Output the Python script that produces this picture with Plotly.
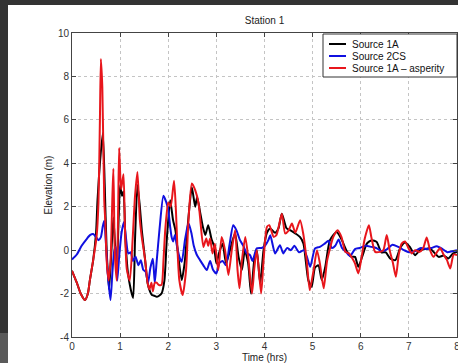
import plotly.graph_objects as go

# ---------------- data ----------------
t_1a = [0.00, 0.10, 0.18, 0.27, 0.33, 0.37, 0.44, 0.50, 0.53, 0.58, 0.64, 0.68, 0.72, 0.77, 0.82, 0.86,
        0.90, 0.93, 0.97, 1.00, 1.04, 1.07, 1.11, 1.16, 1.22, 1.27, 1.31, 1.36, 1.41, 1.45, 1.52, 1.57,
        1.62, 1.66, 1.71, 1.76, 1.81, 1.86, 1.92, 1.97, 2.04, 2.10, 2.15, 2.21, 2.28, 2.34, 2.42, 2.49,
        2.56, 2.60, 2.65, 2.72, 2.77, 2.83, 2.90, 2.95, 3.00, 3.06, 3.13, 3.20, 3.26, 3.33, 3.39, 3.46,
        3.53, 3.59, 3.66, 3.72, 3.79, 3.84, 3.91, 3.98, 4.05, 4.12, 4.22, 4.29, 4.36, 4.46, 4.55, 4.64,
        4.74, 4.81, 4.91, 4.98, 5.05, 5.12, 5.19, 5.26, 5.36, 5.50, 5.60, 5.70, 5.80, 5.88, 5.95, 6.03,
        6.13, 6.23, 6.33, 6.43, 6.52, 6.61, 6.72, 6.82, 6.92, 7.02, 7.13, 7.23, 7.33, 7.44, 7.52, 7.62,
        7.72, 7.82, 7.92, 8.00]
v_1a = [-0.95, -1.5, -2.0, -2.3, -2.0, -1.4, -0.46, 0.8, 2.3, 4.0, 5.4, 3.0, 0.0, -1.8, 0.0, 1.5,
        0.0, -1.0, 1.5, 3.0, 2.5, 2.7, 0.5, -1.0, -1.8, -2.2, 0.5, 3.0, 2.0, 0.92, -0.46, -1.5,
        -1.9, -2.07, -2.1, -2.15, -2.1, -2.0, -1.4, 0.5, 2.3, 1.38, 0.9, -0.31, -1.38, -0.6, 1.5, 2.9,
        2.0, 2.45, 1.9, 1.07, 0.7, 1.15, 0.5, 0.2, -0.61, -0.1, 0.3, -0.6, -0.2, 0.4, 0.77, -0.3,
        -0.92, 0.0, -0.6, -2.0, -0.4, 0.0, -1.53, 0.0, 0.8, 1.0, 0.8, 1.0, 1.68, 1.0, 0.9, 0.77,
        0.6, 0.3, -1.38, -1.69, -0.8, -0.7, -1.38, -0.8, 0.46, 0.84, 0.5, 0.0, -0.3, -0.31, -0.77, -0.3,
        0.31, 0.46, 0.38, -0.1, -0.1, -0.38, -0.46, 0.1, 0.35, 0.15, -0.23, 0.0, 0.05, 0.08, -0.1, -0.31,
        -0.25, -0.38, -0.15, -0.08]

t_2cs = [0.00, 0.10, 0.20, 0.30, 0.38, 0.44, 0.50, 0.55, 0.60, 0.64, 0.67, 0.70, 0.74, 0.80, 0.84, 0.88,
         0.91, 0.94, 0.98, 1.03, 1.08, 1.12, 1.17, 1.22, 1.27, 1.32, 1.38, 1.43, 1.48, 1.53, 1.58, 1.63,
         1.68, 1.72, 1.76, 1.82, 1.90, 1.96, 2.00, 2.04, 2.07, 2.10, 2.14, 2.18, 2.23, 2.28, 2.35, 2.42,
         2.48, 2.53, 2.59, 2.66, 2.73, 2.80, 2.87, 2.93, 3.00, 3.06, 3.13, 3.20, 3.27, 3.35, 3.42, 3.49,
         3.56, 3.63, 3.70, 3.75, 3.84, 3.94, 4.01, 4.08, 4.12, 4.22, 4.32, 4.39, 4.47, 4.55, 4.62, 4.72,
         4.82, 4.88, 4.95, 5.05, 5.15, 5.25, 5.33, 5.40, 5.47, 5.54, 5.61, 5.70, 5.78, 5.88, 5.98, 6.10,
         6.22, 6.32, 6.44, 6.55, 6.66, 6.78, 6.90, 7.00, 7.12, 7.25, 7.37, 7.47, 7.58, 7.70, 7.80, 7.90,
         8.00]
v_2cs = [-0.43, -0.2, 0.2, 0.5, 0.7, 0.74, 0.6, 0.46, 0.6, 1.1, 1.35, 0.5, -1.0, -2.3, -1.0, 0.0,
         0.15, -1.4, -0.3, 0.8, 1.3, 0.6, -0.15, -0.1, -0.5, -0.3, -0.7, -0.46, -0.9, -1.0, -1.5, -0.8,
         -0.4, -1.5, -0.5, 1.0, 2.5, 2.2, 1.85, 1.07, 0.6, 0.4, 0.7, 0.2, -0.3, -0.54, 0.5, 1.25,
         0.8, 0.2, -0.2, -0.46, -0.7, -0.92, -0.5, -0.9, -1.07, -0.6, -0.5, -0.7, 0.2, 1.15, 0.9, 0.46,
         0.2, -0.15, -0.23, -0.5, 0.08, 0.1, 0.2, 0.46, 0.69, -0.15, 0.23, -0.15, 0.1, 0.0, 0.2, -0.1,
         0.0, -0.3, -0.77, 0.08, 0.15, 0.3, 0.43, 0.1, 0.2, 0.49, 0.1, -0.1, -0.28, 0.05, 0.1, 0.2,
         0.15, 0.1, -0.05, 0.05, 0.25, 0.15, 0.0, -0.1, -0.05, 0.1, 0.05, 0.1, 0.18, 0.05, -0.1, -0.05,
         0.0]

t_asp = [0.00, 0.10, 0.18, 0.27, 0.33, 0.37, 0.44, 0.51, 0.55, 0.58, 0.60, 0.63, 0.67, 0.69, 0.72, 0.76,
         0.80, 0.84, 0.86, 0.89, 0.93, 0.96, 0.98, 1.02, 1.07, 1.10, 1.14, 1.20, 1.26, 1.31, 1.36, 1.41,
         1.45, 1.52, 1.57, 1.61, 1.65, 1.68, 1.72, 1.76, 1.80, 1.86, 1.90, 1.94, 2.00, 2.05, 2.12, 2.16,
         2.19, 2.23, 2.30, 2.37, 2.42, 2.49, 2.56, 2.63, 2.66, 2.73, 2.79, 2.83, 2.87, 2.92, 2.97, 3.04,
         3.11, 3.18, 3.25, 3.32, 3.39, 3.44, 3.48, 3.53, 3.60, 3.66, 3.74, 3.79, 3.84, 3.93, 3.98, 4.05,
         4.10, 4.19, 4.25, 4.36, 4.43, 4.50, 4.57, 4.64, 4.74, 4.81, 4.88, 4.94, 5.02, 5.09, 5.15, 5.23,
         5.30, 5.43, 5.52, 5.60, 5.68, 5.76, 5.83, 5.88, 5.95, 6.02, 6.08, 6.17, 6.22, 6.30, 6.40, 6.47,
         6.54, 6.60, 6.67, 6.73, 6.79, 6.85, 6.92, 6.99, 7.06, 7.13, 7.22, 7.30, 7.37, 7.44, 7.51, 7.58,
         7.65, 7.72, 7.79, 7.86, 7.93, 8.00]
v_asp = [-0.95, -1.5, -2.0, -2.3, -2.0, -1.4, -0.46, 0.6, 2.2, 6.0, 8.8, 7.5, 2.3, 1.4, -0.46, -1.4,
         -0.5, 2.5, 3.75, -0.15, -1.4, 2.0, 4.7, 2.8, 3.5, 1.0, -0.9, -1.4, 0.5, 2.5, 3.6, 1.4,
         0.6, -0.46, -1.5, -1.8, -1.5, -1.9, -1.5, -1.5, -1.6, -1.6, -0.5, 1.0, 2.2, 2.0, 3.2, 1.8,
         0.15, -1.38, -2.07, -0.92, 1.38, 3.07, 2.76, 2.15, 1.53, 0.15, 0.54, 0.2, 0.54, -0.15, 0.3, -0.92,
         0.61, 0.0, -1.15, 0.0, 0.92, -0.92, -1.76, -0.5, 0.61, -0.3, -2.0, -0.8, 0.0, -2.0, -0.5, 1.07,
         1.15, 0.61, 0.7, 1.68, 0.77, 0.9, 1.23, 0.8, 1.38, 0.69, -0.55, -1.84, -0.92, 0.0, -0.6, -1.76,
         -0.5, 0.61, 0.92, 0.6, -0.08, -0.15, -0.4, -0.61, -1.07, -0.3, 0.5, 1.15, 0.6, -0.08, -0.08, 0.0,
         0.7, 0.0, -0.6, -1.23, -0.2, 0.3, 0.4, 0.1, -0.15, 0.0, -0.08, 0.1, 0.58, 0.0, -0.31, -0.1,
         0.1, -0.2, -0.45, -0.84, -0.2, -0.23]

series_names = ["Source 1A", "Source 2CS", "Source 1A \u2013 asperity"]
series_colors = ["#000000", "#1010e0", "#e8161c"]
x_ticks = [0, 1, 2, 3, 4, 5, 6, 7, 8]
y_ticks = [-4, -2, 0, 2, 4, 6, 8, 10]

# ---------------- figure ----------------
W, H = 458, 363
L, R, T, B = 72, 1, 33, 26
PW, PH = W - L - R, H - T - B

def px2paper(px, py):
    return (px - L) / PW, (H - B - py) / PH

fig = go.Figure()
for tt, vv, nm, col in zip([t_1a, t_2cs, t_asp], [v_1a, v_2cs, v_asp], series_names, series_colors):
    fig.add_trace(go.Scatter(x=tt, y=vv, mode="lines", name=nm,
                             line=dict(color=col, width=2, shape="spline", smoothing=0.6),
                             showlegend=False))

font_family = "Liberation Sans, Arial, sans-serif"
axis_common = dict(showline=True, linecolor="#444", linewidth=1, mirror="ticks",
                   ticks="inside", ticklen=4, tickcolor="#444",
                   showgrid=True, gridcolor="#c4c4c4", griddash="dot", gridwidth=1,
                   zeroline=False, ticklabeloverflow="allow",
                   tickfont=dict(family=font_family, size=10, color="#333"))

fig.update_xaxes(range=[0, 8], tickvals=x_ticks, ticktext=[str(v) for v in x_ticks],
                 title=dict(text="Time (hrs)", font=dict(family=font_family, size=10, color="#222"), standoff=1),
                 **axis_common)
fig.update_yaxes(range=[-4, 10], tickvals=y_ticks, ticktext=[str(v) for v in y_ticks],
                 title=dict(text="Elevation (m)", font=dict(family=font_family, size=10, color="#222"), standoff=3),
                 **axis_common)

shapes = []
annotations = []

# legend box (MATLAB style)
bx0, by0 = px2paper(323, 77)
bx1, by1 = px2paper(457, 34)
shapes.append(dict(type="rect", xref="paper", yref="paper", x0=bx0, y0=by0, x1=bx1, y1=by1,
                   line=dict(color="#333", width=1), fillcolor="white", layer="above"))
for i, (nm, col) in enumerate(zip(series_names, series_colors)):
    cy = 44 + i * 12
    lx0, ly = px2paper(329, cy)
    lx1, _ = px2paper(346, cy)
    shapes.append(dict(type="line", xref="paper", yref="paper", x0=lx0, x1=lx1, y0=ly, y1=ly,
                       line=dict(color=col, width=2), layer="above"))
    tx, _ = px2paper(350, cy)
    annotations.append(dict(text=nm, xref="paper", yref="paper", x=tx, y=ly, xanchor="left",
                            yanchor="middle", showarrow=False,
                            font=dict(family=font_family, size=10, color="#111")))

# dark frame of the screenshot
fx0, fy_top = px2paper(0, 0)
fx1, fy_bot = px2paper(8, H)
_, fy_mid = px2paper(0, 333)
shapes.append(dict(type="rect", xref="paper", yref="paper", x0=fx0, x1=fx1, y0=fy_mid, y1=fy_top,
                   fillcolor="#333333", line=dict(width=0), layer="above"))
shapes.append(dict(type="rect", xref="paper", yref="paper", x0=fx0, x1=fx1, y0=fy_bot, y1=fy_mid,
                   fillcolor="#5a5a5a", line=dict(width=0), layer="above"))
tx0, ty0 = px2paper(0, 5)
tx1, _ = px2paper(W, 0)
shapes.append(dict(type="rect", xref="paper", yref="paper", x0=tx0, x1=tx1, y0=ty0, y1=fy_top,
                   fillcolor="#333333", line=dict(width=0), layer="above"))

fig.update_layout(
    width=W, height=H,
    margin=dict(l=L, r=R, t=T, b=B, autoexpand=False),
    paper_bgcolor="white", plot_bgcolor="white",
    title=dict(text="Station 1", x=(L + PW / 2) / W, xanchor="center", y=(H - 20) / H, yanchor="middle",
               font=dict(family=font_family, size=10, color="#222")),
    shapes=shapes, annotations=annotations,
    showlegend=False,
)

fig.write_html("out.html", config={"displayModeBar": False},
               post_script="document.body.style.margin='0';document.body.style.padding='0';"
                           "document.body.style.overflow='hidden';")
